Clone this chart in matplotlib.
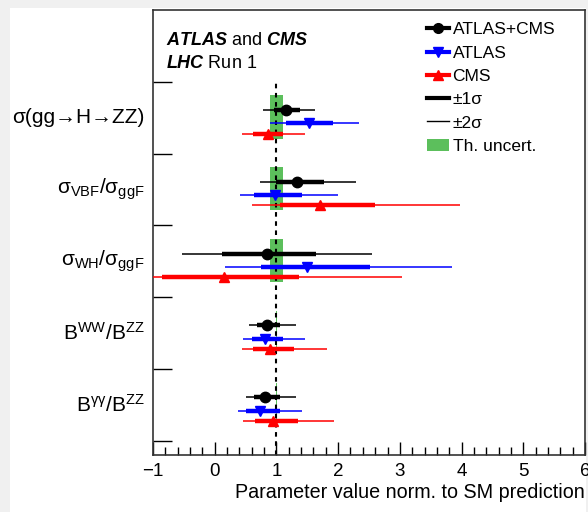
import matplotlib
matplotlib.use("Agg")
import matplotlib.pyplot as plt
import matplotlib.transforms as mtransforms
from matplotlib.lines import Line2D
from matplotlib.patches import Patch, Rectangle
from matplotlib.ticker import MultipleLocator

plt.rcParams['font.family'] = ['Liberation Sans', 'DejaVu Sans']
plt.rcParams['mathtext.fontset'] = 'custom'
plt.rcParams['mathtext.rm'] = 'Liberation Sans'
plt.rcParams['mathtext.it'] = 'Liberation Sans:italic'
plt.rcParams['mathtext.bf'] = 'Liberation Sans:bold'
plt.rcParams['mathtext.bfit'] = 'Liberation Sans:italic:bold'

# parameters, top to bottom
params = [
    "σ(gg→H→ZZ)",
    r"$\mathrm{σ_{VBF}/σ_{ggF}}$",
    r"$\mathrm{σ_{WH}/σ_{ggF}}$",
    r"$\mathrm{B^{WW}/B^{ZZ}}$",
    r"$\mathrm{B^{γγ}/B^{ZZ}}$",
]

# ATLAS+CMS combination
comb_val = [1.16, 1.34, 0.85, 0.84, 0.82]
comb_1sig = [(0.96, 1.39), (0.99, 1.77), (0.12, 1.64), (0.68, 1.06), (0.63, 1.05)]
comb_2sig = [(0.78, 1.63), (0.73, 2.29), (-0.53, 2.55), (0.55, 1.32), (0.50, 1.32)]

# ATLAS
atlas_val = [1.52, 0.97, 1.50, 0.81, 0.74]
atlas_1sig = [(1.16, 1.92), (0.64, 1.42), (0.75, 2.51), (0.60, 1.10), (0.51, 1.05)]
atlas_2sig = [(0.89, 2.33), (0.41, 2.00), (0.17, 3.85), (0.46, 1.46), (0.37, 1.42)]

# CMS
cms_val = [0.86, 1.70, 0.15, 0.89, 0.94]
cms_1sig = [(0.62, 1.11), (1.05, 2.60), (-0.86, 1.36), (0.62, 1.28), (0.65, 1.35)]
cms_2sig = [(0.45, 1.47), (0.60, 3.97), (-1.20, 3.03), (0.44, 1.82), (0.46, 1.93)]

# theory uncertainty on SM prediction
th_unc = [(0.89, 1.11), (0.89, 1.11), (0.89, 1.11), (0.995, 1.005), (0.995, 1.005)]

xticks = [-1, 0, 1, 2, 3, 4, 5, 6]
xtick_labels = ["\u22121", "0", "1", "2", "3", "4", "5", "6"]

series = [
    (comb_val, comb_1sig, comb_2sig, "black", "o", 7.5, 0.39),
    (atlas_val, atlas_1sig, atlas_2sig, "#0000ff", "v", 7, 0.58),
    (cms_val, cms_1sig, cms_2sig, "#ff0000", "^", 7, 0.72),
]

fig = plt.figure(figsize=(5.88, 5.12), dpi=100, facecolor="#f0f0f0")
fig.patches.append(Rectangle((10 / 588, 0), 576 / 588, 504 / 512, transform=fig.transFigure,
                             facecolor="white", edgecolor="none", zorder=-10))
ax = fig.add_axes([153 / 588, 57 / 512, 432 / 588, 445 / 512])

n = len(params)
for i in range(n):
    top = n - i
    lo, hi = th_unc[i]
    ax.add_patch(Rectangle((lo, top - 0.79), hi - lo, 0.60, facecolor="#5cbf5c",
                           edgecolor="none", zorder=1))

ax.plot([1, 1], [-0.2, n], color="black", ls=(0, (2.2, 2.2)), lw=1.5, zorder=2)

for vals, s1, s2, col, mk, ms, off in series:
    for i in range(n):
        y = n - i - off
        ax.plot(s2[i], [y, y], color=col, lw=1.1, zorder=3, solid_capstyle="butt")
        ax.plot(s1[i], [y, y], color=col, lw=3.2, zorder=4, solid_capstyle="butt")
        ax.plot(vals[i], y, marker=mk, color=col, ms=ms, zorder=5, ls="none")

trans = mtransforms.blended_transform_factory(ax.transAxes, ax.transData)
for i, lab in enumerate(params):
    ax.text(-0.019, n - i - 0.5, lab, transform=trans, ha="right", va="center", fontsize=15)

ax.set_xlim(-1, 6)
ax.set_ylim(-0.195, 6.0)
ax.set_xticks(xticks)
ax.set_xticklabels(xtick_labels)
ax.xaxis.set_minor_locator(MultipleLocator(0.2))
ax.set_yticks(range(0, n + 1))
ax.set_yticklabels([])
ax.tick_params(axis="x", which="major", direction="in", length=9.5, width=1, labelsize=13.5, pad=6)
ax.tick_params(axis="x", which="minor", direction="in", length=5.5, width=1)
ax.tick_params(axis="y", which="major", direction="in", length=14, width=1)
ax.set_xlabel("Parameter value norm. to SM prediction", fontsize=14.2, loc="right", labelpad=2)
for sp in ax.spines.values():
    sp.set_color("#333333")
    sp.set_linewidth(1.2)

ax.text(0.030, 0.921, r"$\mathbfit{ATLAS}$ and $\mathbfit{CMS}$", transform=ax.transAxes,
        fontsize=13, ha="left", va="baseline")
ax.text(0.030, 0.869, r"$\mathbfit{LHC}$ Run 1", transform=ax.transAxes,
        fontsize=13, ha="left", va="baseline")

handles = [
    Line2D([], [], color="black", lw=3, marker="o", ms=7),
    Line2D([], [], color="#0000ff", lw=3, marker="v", ms=7),
    Line2D([], [], color="#ff0000", lw=3, marker="^", ms=7),
    Line2D([], [], color="black", lw=3),
    Line2D([], [], color="black", lw=1),
    Patch(facecolor="#5cbf5c", edgecolor="none"),
]
labels = ["ATLAS+CMS", "ATLAS", "CMS", "±1σ", "±2σ", "Th. uncert."]
ax.legend(handles, labels, loc="upper left", bbox_to_anchor=(0.605, 1.0), frameon=False,
          fontsize=12.5, handlelength=1.3, handletextpad=0.2, labelspacing=0.47,
          borderaxespad=0.3)

fig.savefig("out.png", dpi=100, facecolor=fig.get_facecolor())
